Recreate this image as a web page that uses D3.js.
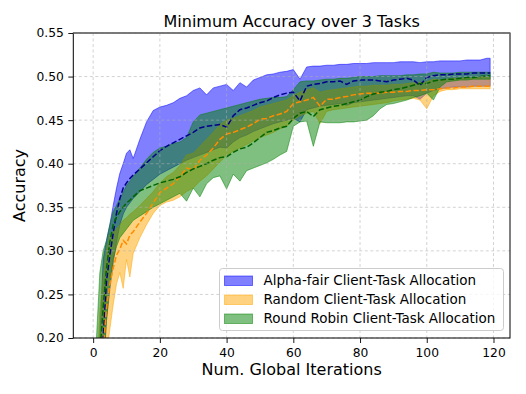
<!DOCTYPE html>
<html>
<head>
<meta charset="utf-8">
<script src="https://cdn.jsdelivr.net/npm/d3@7"></script>
<style>
  body { margin: 0; background: #fff; }
  svg { font-family: "DejaVu Sans", sans-serif; }
</style>
</head>
<body>
<svg width="526" height="394"></svg>
<script>
const iters = [0,1,2,3,4,5,6,7,8,9,10,11,12,14,16,18,20,22,24,26,28,30,32,34,36,38,40,42,44,46,48,50,52,54,56,58,60,62,64,66,68,70,72,74,76,78,80,82,84,86,88,90,92,94,96,98,100,102,104,106,108,110,112,114,116,118,119];

// Alpha-fair
const alphaMean = [0.07,0.09,0.13,0.20,0.265,0.295,0.32,0.343,0.36,0.372,0.378,0.383,0.387,0.394,0.401,0.408,0.415,0.42,0.424,0.428,0.432,0.436,0.441,0.443,0.444,0.445,0.442,0.455,0.462,0.464,0.467,0.47,0.472,0.476,0.479,0.481,0.482,0.472,0.489,0.491,0.492,0.494,0.494,0.495,0.491,0.495,0.496,0.496,0.496,0.495,0.494,0.496,0.497,0.498,0.496,0.49,0.499,0.501,0.502,0.502,0.503,0.503,0.503,0.504,0.504,0.504,0.504];
const alphaLow = [0.05,0.06,0.09,0.15,0.22,0.255,0.285,0.31,0.33,0.342,0.35,0.355,0.36,0.368,0.376,0.382,0.388,0.392,0.396,0.4,0.404,0.407,0.41,0.413,0.416,0.419,0.418,0.425,0.43,0.433,0.437,0.44,0.443,0.446,0.448,0.45,0.452,0.448,0.462,0.464,0.466,0.467,0.468,0.469,0.467,0.47,0.471,0.472,0.473,0.474,0.475,0.476,0.477,0.478,0.478,0.474,0.481,0.484,0.486,0.487,0.488,0.488,0.488,0.489,0.489,0.489,0.489];
const alphaHigh = [0.09,0.12,0.20,0.29,0.312,0.33,0.352,0.372,0.389,0.40,0.412,0.416,0.406,0.428,0.448,0.461,0.465,0.467,0.47,0.475,0.478,0.484,0.487,0.479,0.487,0.489,0.491,0.484,0.493,0.488,0.496,0.499,0.502,0.503,0.505,0.506,0.508,0.497,0.511,0.512,0.512,0.513,0.513,0.514,0.514,0.515,0.515,0.515,0.516,0.516,0.516,0.516,0.517,0.517,0.517,0.516,0.517,0.517,0.518,0.518,0.518,0.518,0.519,0.519,0.519,0.521,0.521];

// Random
const randMean = [0.08,0.10,0.12,0.185,0.235,0.262,0.28,0.295,0.302,0.312,0.308,0.318,0.322,0.333,0.343,0.355,0.367,0.372,0.377,0.385,0.395,0.393,0.404,0.41,0.418,0.428,0.434,0.436,0.439,0.442,0.446,0.451,0.452,0.455,0.457,0.46,0.469,0.471,0.473,0.476,0.466,0.474,0.474,0.476,0.477,0.479,0.48,0.481,0.481,0.481,0.482,0.482,0.483,0.483,0.484,0.484,0.485,0.485,0.486,0.487,0.487,0.488,0.488,0.489,0.489,0.489,0.489];
const randLow = [0.06,0.07,0.09,0.13,0.18,0.21,0.238,0.262,0.275,0.257,0.29,0.27,0.297,0.315,0.33,0.343,0.352,0.356,0.358,0.362,0.368,0.372,0.38,0.386,0.394,0.402,0.41,0.414,0.418,0.422,0.426,0.43,0.433,0.436,0.44,0.443,0.45,0.455,0.458,0.46,0.446,0.46,0.462,0.463,0.464,0.465,0.466,0.467,0.468,0.469,0.47,0.472,0.473,0.474,0.475,0.473,0.463,0.478,0.483,0.485,0.485,0.486,0.486,0.486,0.486,0.486,0.486];
const randHigh = [0.10,0.15,0.23,0.27,0.30,0.318,0.322,0.325,0.33,0.335,0.338,0.342,0.345,0.352,0.36,0.368,0.378,0.385,0.39,0.398,0.41,0.412,0.42,0.428,0.436,0.445,0.45,0.452,0.455,0.458,0.461,0.465,0.467,0.469,0.471,0.473,0.478,0.482,0.485,0.487,0.482,0.484,0.485,0.486,0.487,0.488,0.489,0.489,0.49,0.49,0.49,0.491,0.491,0.492,0.493,0.493,0.494,0.497,0.496,0.497,0.498,0.498,0.498,0.498,0.499,0.499,0.499];

// Round Robin
const rrMean = [0.09,0.13,0.18,0.235,0.28,0.31,0.33,0.339,0.345,0.35,0.355,0.358,0.362,0.369,0.372,0.375,0.378,0.38,0.382,0.385,0.39,0.394,0.397,0.4,0.404,0.407,0.408,0.413,0.417,0.419,0.424,0.43,0.436,0.438,0.441,0.443,0.452,0.458,0.46,0.454,0.462,0.464,0.466,0.467,0.469,0.471,0.473,0.477,0.48,0.482,0.483,0.485,0.486,0.488,0.49,0.492,0.492,0.495,0.496,0.497,0.497,0.498,0.499,0.499,0.5,0.501,0.501];
const rrLow = [0.07,0.10,0.13,0.17,0.22,0.26,0.29,0.305,0.315,0.32,0.325,0.33,0.335,0.34,0.345,0.35,0.354,0.358,0.362,0.366,0.357,0.372,0.362,0.377,0.384,0.386,0.371,0.388,0.38,0.392,0.395,0.398,0.401,0.405,0.41,0.414,0.443,0.448,0.449,0.42,0.448,0.447,0.447,0.447,0.448,0.448,0.449,0.45,0.455,0.463,0.468,0.469,0.471,0.473,0.476,0.478,0.481,0.473,0.488,0.494,0.495,0.496,0.496,0.497,0.497,0.497,0.497];
const rrHigh = [0.11,0.20,0.275,0.30,0.312,0.33,0.345,0.352,0.36,0.367,0.375,0.38,0.385,0.395,0.405,0.413,0.418,0.42,0.423,0.425,0.43,0.448,0.456,0.458,0.46,0.462,0.464,0.466,0.468,0.47,0.472,0.474,0.475,0.476,0.476,0.477,0.485,0.494,0.495,0.495,0.496,0.497,0.497,0.498,0.498,0.499,0.5,0.5,0.5,0.501,0.501,0.501,0.501,0.502,0.502,0.503,0.503,0.505,0.504,0.504,0.504,0.505,0.505,0.505,0.505,0.505,0.505];

const labels = ["Alpha-fair Client-Task Allocation", "Random Client-Task Allocation", "Round Robin Client-Task Allocation"];
const xTicks = [0, 20, 40, 60, 80, 100, 120];
const yTicks = [0.20, 0.25, 0.30, 0.35, 0.40, 0.45, 0.50, 0.55];

const series = [
    { mean: alphaMean, low: alphaLow, high: alphaHigh, fill: "#0000ff", line: "#00008b" },
    { mean: randMean, low: randLow, high: randHigh, fill: "#ffa500", line: "#ff8c00" },
    { mean: rrMean, low: rrLow, high: rrHigh, fill: "#008000", line: "#006400" }
];

const svg = d3.select("svg");
const m = { left: 73.3, right: 510, top: 33, bottom: 338 };

const x = d3.scaleLinear().domain([-5.95, 124.95]).range([m.left, m.right]);
const y = d3.scaleLinear().domain([0.2, 0.55]).range([m.bottom, m.top]);

svg.append("clipPath").attr("id", "plot")
    .append("rect").attr("x", m.left).attr("y", m.top)
    .attr("width", m.right - m.left).attr("height", m.bottom - m.top);

const plot = svg.append("g").attr("clip-path", "url(#plot)");

// bands
series.forEach(function (s) {
    let area = d3.area()
        .x(function (d, i) { return x(iters[i]); })
        .y0(function (d, i) { return y(s.low[i]); })
        .y1(function (d, i) { return y(s.high[i]); });
    plot.append("path")
        .datum(s.mean)
        .attr("d", area)
        .attr("fill", s.fill)
        .attr("fill-opacity", 0.5)
        .attr("stroke", s.fill)
        .attr("stroke-opacity", 0.5)
        .attr("stroke-width", 1);
});

// grid
const grid = svg.append("g");
grid.selectAll(".gx").data(xTicks).enter().append("line")
    .attr("x1", function (d) { return x(d); }).attr("x2", function (d) { return x(d); })
    .attr("y1", m.top).attr("y2", m.bottom);
grid.selectAll(".gy").data(yTicks).enter().append("line")
    .attr("y1", function (d) { return y(d); }).attr("y2", function (d) { return y(d); })
    .attr("x1", m.left).attr("x2", m.right);
grid.selectAll("line")
    .attr("stroke", "#b0b0b0")
    .attr("stroke-opacity", 0.7)
    .attr("stroke-width", 0.8)
    .attr("stroke-dasharray", "3,2.5");

// mean lines
series.forEach(function (s) {
    let line = d3.line()
        .x(function (d, i) { return x(iters[i]); })
        .y(function (d) { return y(d); });
    plot.append("path")
        .datum(s.mean)
        .attr("d", line)
        .attr("fill", "none")
        .attr("stroke", s.line)
        .attr("stroke-width", 1.5)
        .attr("stroke-dasharray", "5.5,2.4");
});

// axes
const xAxis = svg.append("g")
    .attr("transform", "translate(0," + m.bottom + ")")
    .call(d3.axisBottom(x).tickValues(xTicks).tickSize(5).tickPadding(5).tickFormat(d3.format("d")));
const yAxis = svg.append("g")
    .attr("transform", "translate(" + m.left + ",0)")
    .call(d3.axisLeft(y).tickValues(yTicks).tickSize(5).tickPadding(4.5).tickFormat(d3.format(".2f")));

[xAxis, yAxis].forEach(function (a) {
    a.select(".domain").remove();
    a.selectAll("text").attr("font-size", 12.3).attr("fill", "#000").attr("font-family", "DejaVu Sans");
    a.selectAll("line").attr("stroke", "#000").attr("stroke-width", 0.9);
});

// spines
svg.append("rect")
    .attr("x", m.left).attr("y", m.top)
    .attr("width", m.right - m.left).attr("height", m.bottom - m.top)
    .attr("fill", "none").attr("stroke", "#000").attr("stroke-width", 1);
svg.append("line")
    .attr("x1", m.left).attr("x2", m.right).attr("y1", m.top).attr("y2", m.top)
    .attr("stroke", "#7a7a7a").attr("stroke-width", 1.6);

// labels
svg.append("text")
    .attr("x", (m.left + m.right) / 2).attr("y", 27)
    .attr("text-anchor", "middle").attr("font-size", 16)
    .text("Minimum Accuracy over 3 Tasks");
svg.append("text")
    .attr("x", (m.left + m.right) / 2).attr("y", 375)
    .attr("text-anchor", "middle").attr("font-size", 16)
    .text("Num. Global Iterations");
svg.append("text")
    .attr("transform", "translate(25," + (m.top + m.bottom) / 2 + ") rotate(-90)")
    .attr("text-anchor", "middle").attr("font-size", 16)
    .text("Accuracy");

// legend
const legend = svg.append("g").attr("transform", "translate(219.5,268.5)");
legend.append("rect")
    .attr("width", 284).attr("height", 62).attr("rx", 3)
    .attr("fill", "#fff").attr("fill-opacity", 0.8)
    .attr("stroke", "#cccccc").attr("stroke-width", 1);

let item = legend.selectAll(".item")
    .data(series)
    .enter().append("g")
    .attr("class", "item")
    .attr("transform", function (d, i) { return "translate(0," + (12 + i * 19) + ")"; });

item.append("rect")
    .attr("x", 5).attr("y", -4.5).attr("width", 28).attr("height", 9.5)
    .attr("fill", function (d) { return d.fill; }).attr("fill-opacity", 0.5)
    .attr("stroke", function (d) { return d.fill; }).attr("stroke-opacity", 0.5);

item.append("text")
    .attr("x", 44).attr("dy", "0.35em")
    .attr("font-size", 13.5)
    .text(function (d, i) { return labels[i]; });
</script>
</body>
</html>
